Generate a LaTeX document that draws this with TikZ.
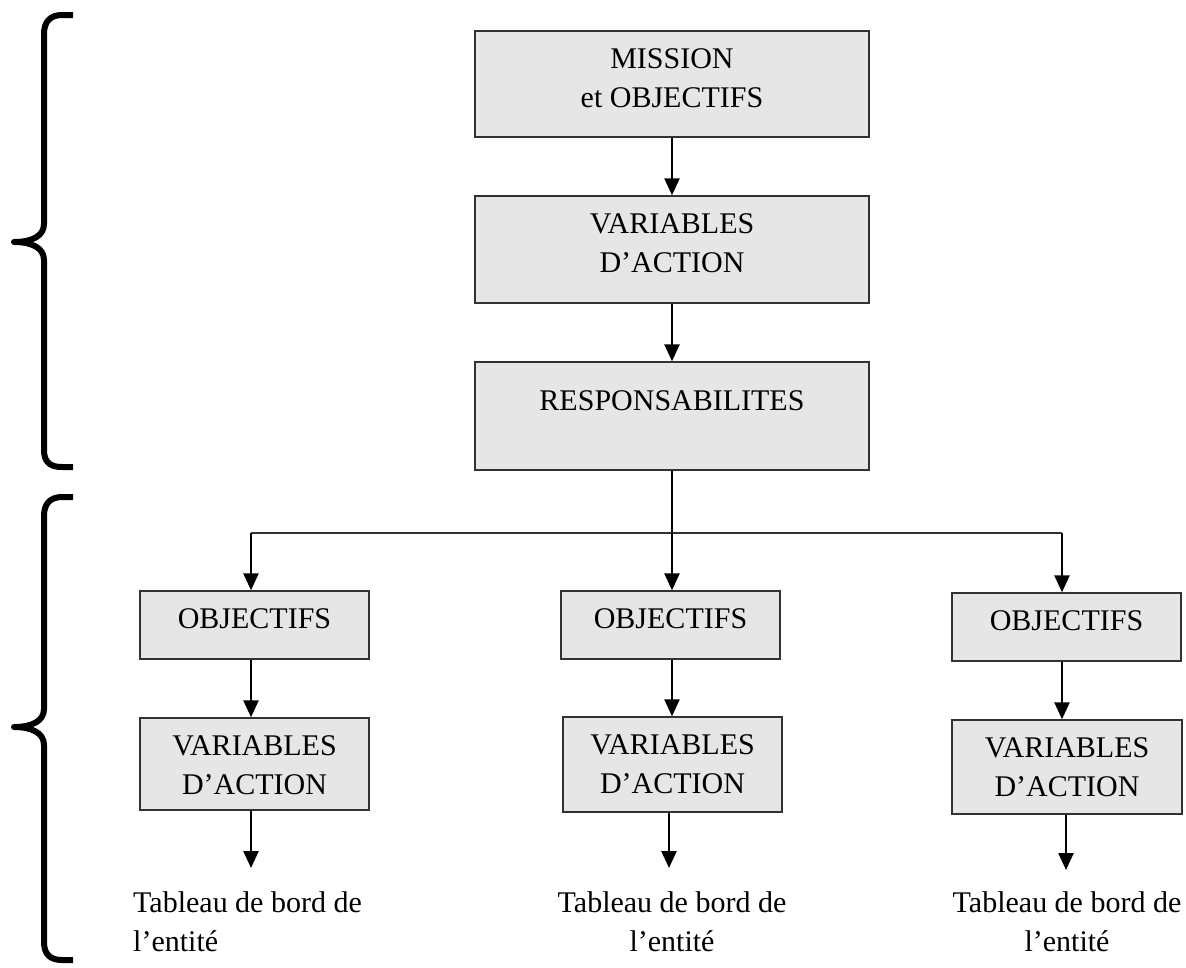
\documentclass[tikz,border=0pt]{standalone}
\usepackage{fontspec}
\setmainfont{Liberation Serif}
\usetikzlibrary{arrows.meta}
\definecolor{boxfill}{RGB}{230,230,230}
\definecolor{boxline}{RGB}{50,50,50}

\begin{document}
\begin{tikzpicture}[x=1pt,y=-1pt,
  font=\fontsize{30}{39}\selectfont,
  stage/.style={draw=boxline, line width=1.4pt, fill=boxfill, inner sep=0pt,
                anchor=base, text height=37pt},
  arr/.style={line width=2.5pt, -{Triangle[length=17pt,width=15pt]}},
  stem/.style={line width=2.5pt},
  rail/.style={line width=1.2pt, draw=boxline},
  brace/.style={line width=6pt, line join=round},
  caption/.style={inner sep=0pt}
]
\useasboundingbox (0,0) rectangle (1186,967);

% left-hand curly braces
\draw[brace] (73,15) -- (62,15) .. controls (50,15) and (44,22) .. (44,34)
  -- (44,224) .. controls (44,236) and (32,242) .. (14,242)
  .. controls (32,242) and (44,248) .. (44,260)
  -- (44,450) .. controls (44,462) and (50,467) .. (62,467) -- (73,467);
\draw[brace] (73,497) -- (62,497) .. controls (50,497) and (44,504) .. (44,516)
  -- (44,709) .. controls (44,721) and (32,727) .. (14,727)
  .. controls (32,727) and (44,733) .. (44,745)
  -- (44,942) .. controls (44,954) and (50,960) .. (62,960) -- (73,960);

% upper chain
\node[stage, minimum width=394pt, text depth=69pt] (b1) at (672,68)
  {\begin{tabular}[t]{@{}c@{}}MISSION\\et OBJECTIFS\end{tabular}};
\node[stage, minimum width=394pt, text depth=70pt] (b2) at (672,233)
  {\begin{tabular}[t]{@{}c@{}}VARIABLES\\D’ACTION\end{tabular}};
\node[stage, minimum width=394pt, text height=48pt, text depth=60pt] (b3) at (672,410)
  {RESPONSABILITES};

\draw[arr] (b1.south) -- (b2.north);
\draw[arr] (b2.south) -- (b3.north);

% lower branches
\node[stage, minimum width=229pt, text depth=31pt] (o1) at (254.5,628) {OBJECTIFS};
\node[stage, minimum width=219pt, text depth=31pt] (o2) at (670.5,628) {OBJECTIFS};
\node[stage, minimum width=229pt, text depth=31pt] (o3) at (1066.5,630) {OBJECTIFS};

\node[stage, minimum width=229pt, text depth=55pt] (v1) at (254.5,755)
  {\begin{tabular}[t]{@{}c@{}}VARIABLES\\D’ACTION\end{tabular}};
\node[stage, minimum width=219pt, text depth=58pt] (v2) at (672.5,754)
  {\begin{tabular}[t]{@{}c@{}}VARIABLES\\D’ACTION\end{tabular}};
\node[stage, minimum width=230pt, text depth=57pt] (v3) at (1067,757)
  {\begin{tabular}[t]{@{}c@{}}VARIABLES\\D’ACTION\end{tabular}};

\node[caption, anchor=base west] (t1) at (133,912)
  {\begin{tabular}[t]{@{}l@{}}Tableau de bord de\\l’entité\end{tabular}};
\node[caption, anchor=base] (t2) at (672,912)
  {\begin{tabular}[t]{@{}c@{}}Tableau de bord de\\l’entité\end{tabular}};
\node[caption, anchor=base] (t3) at (1067,912)
  {\begin{tabular}[t]{@{}c@{}}Tableau de bord de\\l’entité\end{tabular}};

% split below RESPONSABILITES
\coordinate (jl) at (251,533);
\coordinate (jm) at (672,533);
\coordinate (jr) at (1062,533);
\coordinate (e1) at (251,868);
\coordinate (e2) at (669,868);
\coordinate (e3) at (1066,870);

\draw[stem] (b3.south) -- (jm);
\draw[rail] (jl) -- (jr);
\draw[arr] (jl) -- (jl |- o1.north);
\draw[arr] (jm) -- (jm |- o2.north);
\draw[arr] (jr) -- (jr |- o3.north);

\draw[arr] (o1.south -| jl) -- (v1.north -| jl);
\draw[arr] (o2.south -| jm) -- (v2.north -| jm);
\draw[arr] (o3.south -| jr) -- (v3.north -| jr);

\draw[arr] (v1.south -| e1) -- (e1);
\draw[arr] (v2.south -| e2) -- (e2);
\draw[arr] (v3.south -| e3) -- (e3);
\end{tikzpicture}
\end{document}
